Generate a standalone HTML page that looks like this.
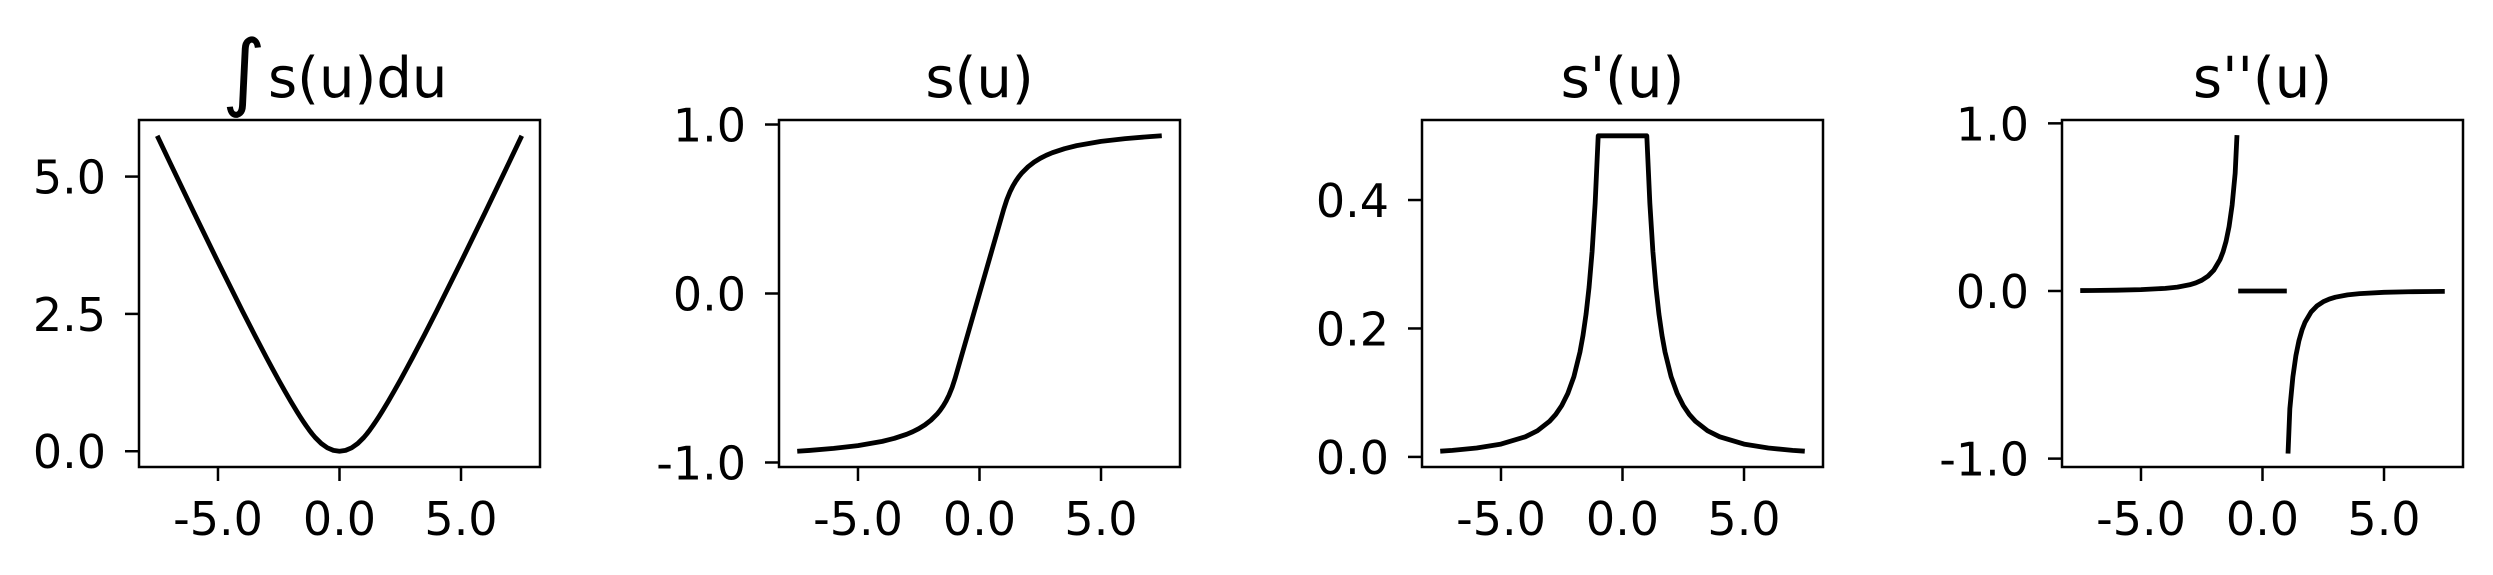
<!DOCTYPE html>
<html><head><meta charset="utf-8"><style>
html,body{margin:0;padding:0;background:#fff;}
svg{display:block;font-family:"DejaVu Sans","Liberation Sans",sans-serif;}
</style></head><body>
<svg id="fig" width="2493" height="575" viewBox="0 0 2493 575" xmlns="http://www.w3.org/2000/svg"></svg>
<script>
const xVals = [-7.5,-7,-6,-5,-4,-3.5,-3,-2.75,-2.5,-2.25,-2,-1.75,-1.625,-1.5,-1.375,-1.25,-1.125,-1,-0.75,-0.5,-0.25,0,0.25,0.5,0.75,1,1.125,1.25,1.375,1.5,1.625,1.75,2,2.25,2.5,2.75,3,3.5,4,5,6,7,7.5];
const integralVals = [5.7425,5.277,4.3541,3.4453,2.5569,2.1236,1.7007,1.4942,1.2919,1.0945,0.9034,0.7202,0.6322,0.5473,0.4658,0.3884,0.3161,0.25,0.1406,0.0625,0.0156,0,0.0156,0.0625,0.1406,0.25,0.3161,0.3884,0.4658,0.5473,0.6322,0.7202,0.9034,1.0945,1.2919,1.4942,1.7007,2.1236,2.5569,3.4453,4.3541,5.277,5.7425];
const sVals = [-0.9333,-0.9286,-0.9167,-0.9,-0.875,-0.8571,-0.8333,-0.8182,-0.8,-0.7778,-0.75,-0.7143,-0.6923,-0.6667,-0.6364,-0.6,-0.5556,-0.5,-0.375,-0.25,-0.125,0,0.125,0.25,0.375,0.5,0.5556,0.6,0.6364,0.6667,0.6923,0.7143,0.75,0.7778,0.8,0.8182,0.8333,0.8571,0.875,0.9,0.9167,0.9286,0.9333];
const s1Vals = [0.0089,0.0102,0.0139,0.02,0.0313,0.0408,0.0556,0.0661,0.08,0.0988,0.125,0.1633,0.1893,0.2222,0.2645,0.32,0.3951,0.5,0.5,0.5,0.5,0.5,0.5,0.5,0.5,0.5,0.3951,0.32,0.2645,0.2222,0.1893,0.1633,0.125,0.0988,0.08,0.0661,0.0556,0.0408,0.0313,0.02,0.0139,0.0102,0.0089];
// s'' drawn as three separate segments (null = break)
const x2Vals = [-7.5,-7,-6,-5,-4,-3.5,-3,-2.75,-2.5,-2.25,-2,-1.75,-1.625,-1.5,-1.375,-1.25,-1.125,-1.05,null,-1,1,null,1.05,1.125,1.25,1.375,1.5,1.625,1.75,2,2.25,2.5,2.75,3,3.5,4,5,6,7,7.5];
const s2Vals = [0.0024,0.0029,0.0046,0.008,0.0156,0.0233,0.037,0.0481,0.064,0.0878,0.125,0.1866,0.233,0.2963,0.3847,0.512,0.7023,0.93,null,0,0,null,-0.97,-0.7023,-0.512,-0.3847,-0.2963,-0.233,-0.1866,-0.125,-0.0878,-0.064,-0.0481,-0.037,-0.0233,-0.0156,-0.008,-0.0046,-0.0029,-0.0024];
const xTicks = [-5,0,5];
const xTickLabels = ["-5.0","0.0","5.0"];
const yTicks1 = [0,2.5,5], yTickLabels1 = ["0.0","2.5","5.0"];
const yTicks2 = [-1,0,1], yTickLabels2 = ["-1.0","0.0","1.0"];
const yTicks3 = [0,0.2,0.4], yTickLabels3 = ["0.0","0.2","0.4"];
const yTicks4 = [-1,0,1], yTickLabels4 = ["-1.0","0.0","1.0"];

const NS = "http://www.w3.org/2000/svg";
const svg = document.getElementById('fig');
function mk(tag, attrs, parent){const e=document.createElementNS(NS,tag);for(const k in attrs)e.setAttribute(k,attrs[k]);(parent||svg).appendChild(e);return e;}

const TOP=120, BOT=467, W=401;
const panels = [
 {left:139, ylim:[-0.287,6.03], xs:xVals, ys:integralVals, yt:yTicks1, yl:yTickLabels1, title:"int", name:"integral"},
 {left:779, ylim:[-1.0267,1.0267], xs:xVals, ys:sVals, yt:yTicks2, yl:yTickLabels2, title:"s(u)", name:"s"},
 {left:1422, ylim:[-0.0157,0.5246], xs:xVals, ys:s1Vals, yt:yTicks3, yl:yTickLabels3, title:"s'(u)", name:"s-prime"},
 {left:2062, ylim:[-1.05,1.02], xs:x2Vals, ys:s2Vals, yt:yTicks4, yl:yTickLabels4, title:"s''(u)", name:"s-double-prime"}
];
const XLIM=[-8.25,8.25];

panels.forEach(p=>{
  const g = mk('g',{});
  
  
  const xs = v => p.left + (v-XLIM[0])/(XLIM[1]-XLIM[0])*W;
  const ys = v => BOT - (v-p.ylim[0])/(p.ylim[1]-p.ylim[0])*(BOT-TOP);
  let d="", pen=false;
  for(let i=0;i<p.xs.length;i++){
    if(p.xs[i]===null||p.ys[i]===null){pen=false;continue;}
    d += (pen?"L":"M")+xs(p.xs[i]).toFixed(2)+" "+ys(p.ys[i]).toFixed(2)+" ";
    pen=true;
  }
  const path = mk('path',{d:d,fill:'none',stroke:'#000','stroke-width':4.8,'stroke-linejoin':'round'},g);
  
  
  const fr = mk('rect',{x:p.left,y:TOP,width:W,height:BOT-TOP,fill:'none',stroke:'#000','stroke-width':2.5},g);
  
  
  xTicks.forEach((t,i)=>{
    const x=xs(t);
    mk('line',{x1:x,y1:BOT,x2:x,y2:BOT+14,stroke:'#000','stroke-width':2.5},g);
    const tx = mk('text',{x:x,y:535,'font-size':46,'text-anchor':'middle',fill:'#000'},g);
    tx.textContent = xTickLabels[i];
    
    
  });
  p.yt.forEach((t,i)=>{
    const y=ys(t);
    mk('line',{x1:p.left-14,y1:y,x2:p.left,y2:y,stroke:'#000','stroke-width':2.5},g);
    const tx = mk('text',{x:p.left-33,y:y+17,'font-size':46,'text-anchor':'end',fill:'#000'},g);
    tx.textContent = p.yl[i];
    
    
  });
  const cx = p.left + W/2;
  let tt;
  if(p.title==="int"){
    tt = mk('text',{x:268,y:97,'font-size':56,'text-anchor':'start',fill:'#000'},g);
    tt.textContent = "s(u)du";
    const ig = mk('text',{x:222,y:100,'font-size':84,fill:'#000'},g);
    ig.textContent = "∫";
    
    
  } else {
    tt = mk('text',{x:cx,y:97,'font-size':56,'text-anchor':'middle',fill:'#000'},g);
    tt.textContent = p.title;
  }
  
  
});
</script>
</body></html>
